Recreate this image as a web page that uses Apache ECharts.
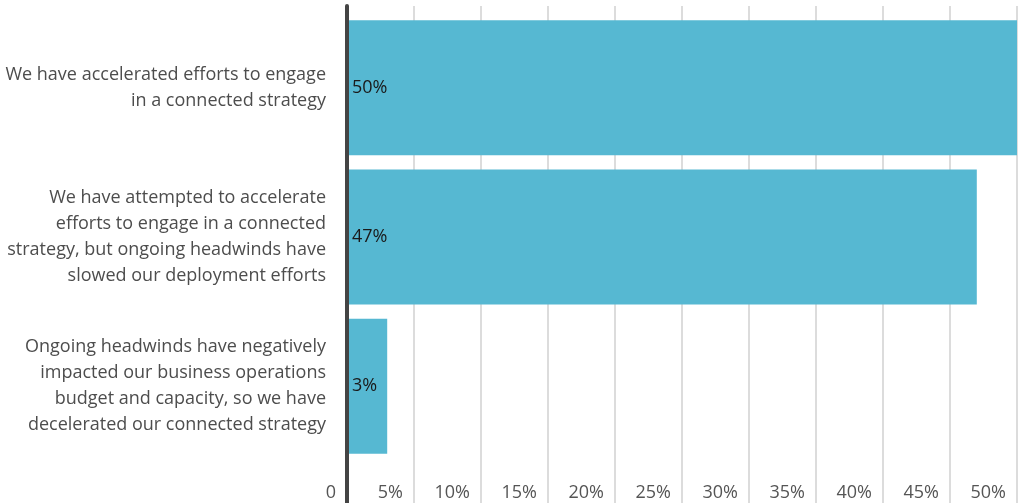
<!DOCTYPE html>
<html>
<head>
<meta charset="utf-8">
<script src="https://cdn.jsdelivr.net/npm/echarts@6/dist/echarts.min.js"></script>
<style>
  html, body { margin: 0; padding: 0; background: #fff; }
  #chart { width: 1018px; height: 503px; }
</style>
</head>
<body>
<div id="chart"></div>
<script>
// Survey responses: how organisations have progressed their connected strategy
const categories = [
  'We have accelerated efforts to engage\nin a connected strategy',
  'We have attempted to accelerate\nefforts to engage in a connected\nstrategy, but ongoing headwinds have\nslowed our deployment efforts',
  'Ongoing headwinds have negatively\nimpacted our business operations\nbudget and capacity, so we have\ndecelerated our connected strategy'
];
const shares = [50, 47, 3];
const xTicks = { min: 0, max: 50, step: 5 };

const FONT = '"Open Sans", "Noto Sans", sans-serif';
const chart = echarts.init(document.getElementById('chart'), null, { renderer: 'canvas' });

chart.setOption({
  animation: false,
  grid: [
    // grid 0 holds the bars
    { left: 347, right: 1, top: 13, height: 448, containLabel: false },
    // grid 1 carries the full-height gridlines, baseline and tick labels
    { left: 347, right: 1, top: 6, bottom: 0, containLabel: false }
  ],
  xAxis: [
    {
      gridIndex: 0, type: 'value', min: xTicks.min, max: xTicks.max, interval: xTicks.step,
      axisLine: { show: false }, axisTick: { show: false },
      axisLabel: { show: false }, splitLine: { show: false }
    },
    {
      gridIndex: 1, type: 'value', min: xTicks.min, max: xTicks.max, interval: xTicks.step,
      position: 'bottom',
      axisLine: { show: false }, axisTick: { show: false },
      axisLabel: {
        inside: true, margin: 1, align: 'right', padding: [0, 11, 0, 0],
        color: '#555', fontSize: 18, fontFamily: FONT,
        formatter: v => (v === 0 ? '0' : v + '%')
      },
      splitLine: { show: true, lineStyle: { color: '#dcdcdc', width: 2 } }
    }
  ],
  yAxis: [
    {
      gridIndex: 0, type: 'category', data: categories, inverse: true,
      axisLine: { show: false }, axisTick: { show: false },
      axisLabel: {
        margin: 21, color: '#4d4d4d', fontSize: 18, lineHeight: 26,
        fontFamily: FONT, align: 'right', padding: [3, 0, 0, 0]
      }
    },
    {
      gridIndex: 1, type: 'value', min: 0, max: 1, z: 10,
      axisLine: { show: true, onZero: false, lineStyle: { color: '#444', width: 4 } },
      axisTick: { show: false }, axisLabel: { show: false }, splitLine: { show: false }
    }
  ],
  series: [
    {
      type: 'bar', xAxisIndex: 0, yAxisIndex: 0,
      data: shares, barWidth: 135,
      itemStyle: { color: '#56b8d2' },
      label: {
        show: true, position: 'insideLeft', distance: 5,
        color: '#1a1a1a', fontSize: 18, fontFamily: FONT,
        formatter: p => p.value + '%'
      }
    }
  ]
});
</script>
</body>
</html>
